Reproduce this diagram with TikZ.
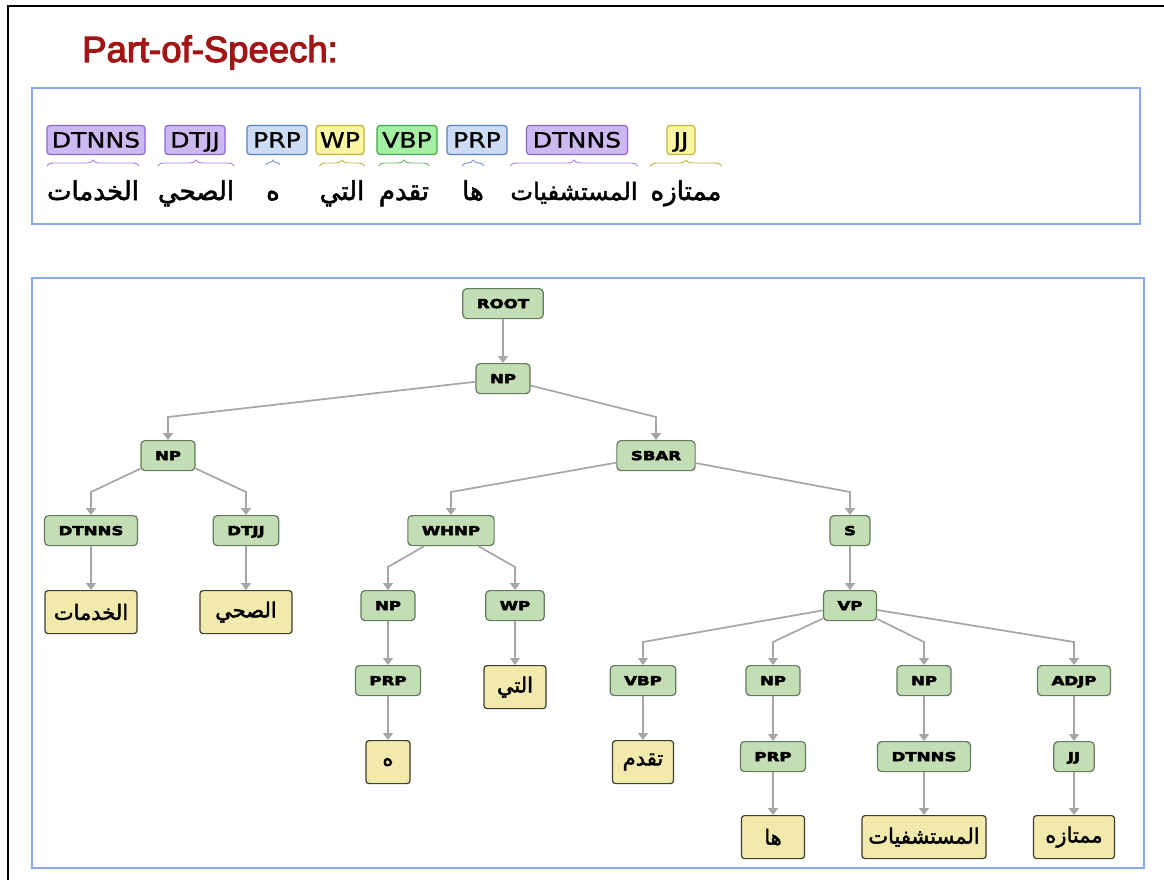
\documentclass[tikz,border=0pt]{standalone}
\usepackage{fontspec}
\usetikzlibrary{arrows.meta,decorations.pathreplacing}
\TeXXeTstate=1
\newfontfamily\arabicheavy[Script=Arabic,FakeBold=2]{DejaVu Sans}
\newfontfamily\titlefont[FakeBold=3]{Liberation Sans}
\newfontfamily\tagfont[FakeStretch=1.2,FakeBold=1]{DejaVu Sans}
\newfontfamily\treefont[FakeStretch=1.35,FakeBold=4]{DejaVu Sans Bold}

\definecolor{titlered}{HTML}{A31515}
\definecolor{panelblue}{HTML}{86A8F5}
\definecolor{dtfill}{HTML}{CDB9F2}\definecolor{dtline}{HTML}{9065D6}
\definecolor{prpfill}{HTML}{CCDCF5}\definecolor{prpline}{HTML}{5A7FCC}
\definecolor{wpfill}{HTML}{FBF7A0}\definecolor{wpline}{HTML}{C4B43C}
\definecolor{vbpfill}{HTML}{A5EFA5}\definecolor{vbpline}{HTML}{45A845}
\definecolor{tnfill}{HTML}{C3DDB4}\definecolor{tnline}{HTML}{637B5E}
\definecolor{leaffill}{HTML}{F2E9AC}\definecolor{leafline}{HTML}{3E3E30}
\definecolor{edgegray}{HTML}{A6A6A6}

\tikzset{
  panel/.style={draw=panelblue, line width=2pt},
  tagbox/.style={rounded corners=3pt, line width=1.2pt, minimum height=29pt,
    inner sep=0pt, text height=15pt, text depth=0pt,
    font=\tagfont\fontsize{21}{21}\selectfont},
  dtcol/.style={draw=dtline, fill=dtfill},
  prpcol/.style={draw=prpline, fill=prpfill},
  wpcol/.style={draw=wpline, fill=wpfill},
  vbpcol/.style={draw=vbpline, fill=vbpfill},
  word/.style={anchor=base, inner xsep=0pt, inner ysep=2pt,
    font=\arabicheavy\fontsize{26}{26}\selectfont},
  tagbrace/.style={decorate, decoration={brace, amplitude=6pt}, line width=0.9pt},
  tn/.style={anchor=north, rounded corners=4pt, draw=tnline, fill=tnfill,
    line width=1.2pt, minimum height=30pt, inner xsep=14pt, inner ysep=0pt,
    text height=9pt, text depth=0pt,
    font=\treefont\fontsize{12.3}{12.3}\selectfont},
  leaf/.style={anchor=north, rounded corners=3pt, draw=leafline, fill=leaffill,
    line width=1.2pt, minimum height=43pt, inner sep=0pt,
    font=\arabicheavy\fontsize{21}{21}\selectfont},
  edge/.style={draw=edgegray, line width=1.7pt,
    -{Triangle[width=10pt,length=7pt]}}
}
% slanted connector: leaves the parent, bends 23pt above the child, drops in
\newcommand\treeedge[2]{\draw[edge] (#1) -- ([yshift=23pt]#2.north) -- (#2);}

\begin{document}
\begin{tikzpicture}[x=1pt,y=-1pt]
\useasboundingbox (0,0) rectangle (1164,880);
\fill[white] (0,0) rectangle (1164,880);
\draw[line width=2.5pt] (8,880) -- (8,6) -- (1164,6);

% heading
\node[anchor=base west, inner sep=0pt, text=titlered,
  font=\titlefont\fontsize{36.5}{36.5}\selectfont] (title) at (82,62) {Part-of-Speech:};

% ---------------- part-of-speech panel ----------------
\draw[panel] (32,88) rectangle (1140,224);

\node[tagbox,dtcol,minimum width=98pt]  (t1) at (96,140)  {DTNNS};
\node[tagbox,dtcol,minimum width=60pt]  (t2) at (195,140) {DTJJ};
\node[tagbox,prpcol,minimum width=60pt] (t3) at (277,140) {PRP};
\node[tagbox,wpcol,minimum width=48pt]  (t4) at (340,140) {WP};
\node[tagbox,vbpcol,minimum width=60pt] (t5) at (407,140) {VBP};
\node[tagbox,prpcol,minimum width=60pt] (t6) at (477,140) {PRP};
\node[tagbox,dtcol,minimum width=101pt] (t7) at (577,140) {DTNNS};
\node[tagbox,wpcol,minimum width=28pt]  (t8) at (681,140) {JJ};

\node[word] (w1) at (93,200)  {\beginR الخدمات\endR};
\node[word] (w2) at (196,200) {\beginR الصحي\endR};
\node[word] (w3) at (273,200) {\beginR ه\endR};
\node[word] (w4) at (342,200) {\beginR التي\endR};
\node[word] (w5) at (404,200) {\beginR تقدم\endR};
\node[word] (w6) at (473,200) {\beginR ها\endR};
\node[word,font=\arabicheavy\fontsize{24}{24}\selectfont] (w7) at (574,200) {\beginR المستشفيات\endR};
\node[word] (w8) at (686,200) {\beginR ممتازه\endR};

\draw[tagbrace, draw=dtline!80]  (w1.west |- 0,166) -- (w1.east |- 0,166);
\draw[tagbrace, draw=dtline!80]  (w2.west |- 0,166) -- (w2.east |- 0,166);
\draw[tagbrace, draw=prpline!80, decoration={brace, amplitude=5pt}] (w3.west |- 0,165) -- (w3.east |- 0,165);
\draw[tagbrace, draw=wpline]     (w4.west |- 0,166) -- (w4.east |- 0,166);
\draw[tagbrace, draw=vbpline!80] (w5.west |- 0,166) -- (w5.east |- 0,166);
\draw[tagbrace, draw=prpline!80] (w6.west |- 0,166) -- (w6.east |- 0,166);
\draw[tagbrace, draw=dtline!80]  (w7.west |- 0,166) -- (w7.east |- 0,166);
\draw[tagbrace, draw=wpline]     (w8.west |- 0,166) -- (w8.east |- 0,166);

% ---------------- parse tree panel ----------------
\draw[panel] (32,278) rectangle (1144,868);

\node[tn] (root)  at (503,288) {ROOT};
\node[tn] (np0)   at (503,363) {NP};
\node[tn] (npL)   at (168,440) {NP};
\node[tn] (sbar)  at (656,440) {SBAR};
\node[tn] (dtnA)  at (91,515)  {DTNNS};
\node[tn] (dtjj)  at (246,515) {DTJJ};
\node[tn] (whnp)  at (451,515) {WHNP};
\node[tn] (s)     at (850,515) {S};
\node[tn] (npW)   at (388,590) {NP};
\node[tn] (wp)    at (515,590) {WP};
\node[tn] (vp)    at (850,590) {VP};
\node[tn] (prpA)  at (388,665) {PRP};
\node[tn] (vbp)   at (643,665) {VBP};
\node[tn] (npB)   at (773,665) {NP};
\node[tn] (npC)   at (924,665) {NP};
\node[tn] (adjp)  at (1074,665) {ADJP};
\node[tn] (prpB)  at (773,741) {PRP};
\node[tn] (dtnB)  at (924,741) {DTNNS};
\node[tn] (jj)    at (1074,741) {JJ};

\node[leaf,minimum width=92pt]  (l1) at (91,590)   {\beginR الخدمات\endR};
\node[leaf,minimum width=92pt]  (l2) at (246,590)  {\beginR الصحي\endR};
\node[leaf,minimum width=62pt]  (l4) at (515,665)  {\beginR التي\endR};
\node[leaf,minimum width=44pt]  (l3) at (388,740)  {\beginR ه\endR};
\node[leaf,minimum width=61pt]  (l5) at (643,740)  {\beginR تقدم\endR};
\node[leaf,minimum width=63pt]  (l6) at (773,815)  {\beginR ها\endR};
\node[leaf,minimum width=124pt] (l7) at (924,815)  {\beginR المستشفيات\endR};
\node[leaf,minimum width=81pt]  (l8) at (1074,815) {\beginR ممتازه\endR};

% connectors
\draw[edge] (root) -- (np0);
\treeedge{np0}{npL}
\treeedge{np0}{sbar}
\treeedge{npL}{dtnA}
\treeedge{npL}{dtjj}
\treeedge{sbar}{whnp}
\treeedge{sbar}{s}
\treeedge{whnp}{npW}
\treeedge{whnp}{wp}
\draw[edge] (s) -- (vp);
\treeedge{vp}{vbp}
\treeedge{vp}{npB}
\treeedge{vp}{npC}
\treeedge{vp}{adjp}
\draw[edge] (dtnA) -- (l1);
\draw[edge] (dtjj) -- (l2);
\draw[edge] (npW) -- (prpA);
\draw[edge] (prpA) -- (l3);
\draw[edge] (wp) -- (l4);
\draw[edge] (vbp) -- (l5);
\draw[edge] (npB) -- (prpB);
\draw[edge] (prpB) -- (l6);
\draw[edge] (npC) -- (dtnB);
\draw[edge] (dtnB) -- (l7);
\draw[edge] (adjp) -- (jj);
\draw[edge] (jj) -- (l8);
\end{tikzpicture}
\end{document}
